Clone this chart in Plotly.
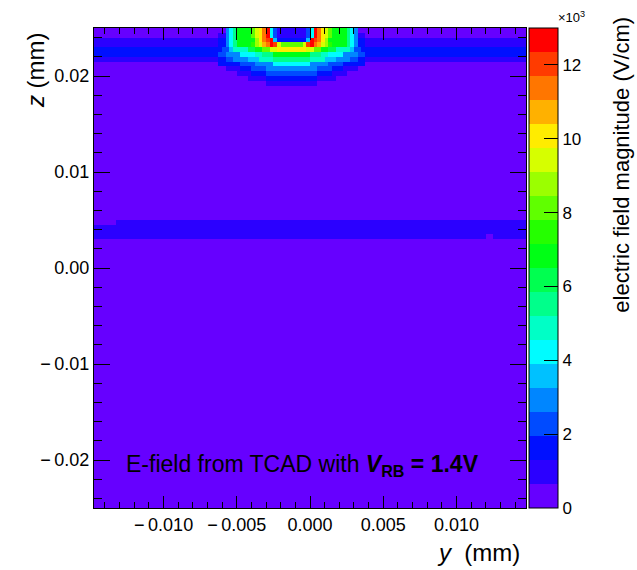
import numpy as np
import plotly.graph_objects as go

# ---- histogram binning (mm) ----
N_Y_BINS = 118
N_Z_BINS = 100
Y_MIN, Y_MAX = -0.01475, 0.01475
Z_MIN, Z_MAX = -0.025, 0.025

# ---- axis tick labels ----
Y_TICKS = [-0.010, -0.005, 0.0, 0.005, 0.010]
Y_TICK_LABELS = ["\u2212\u20090.010", "\u2212\u20090.005", "0.000", "0.005", "0.010"]
Z_TICKS = [-0.02, -0.01, 0.0, 0.01, 0.02]
Z_TICK_LABELS = ["\u2212\u20090.02", "\u2212\u20090.01", "0.00", "0.01", "0.02"]

# ---- field values (V/cm) ----
BULK_FIELD = 300

# depth slabs with a uniform field across the whole width
SLAB_Z_LOW = [0.0230, 0.0220, 0.0215, 0.0030]
SLAB_Z_HIGH = [0.0240, 0.0230, 0.0220, 0.0050]
SLAB_FIELD = [1000, 1600, 1000, 1000]

# single cells that stay at the bulk value inside a slab
SPOT_Y_LOW = [-0.01475, 0.01200]
SPOT_Y_HIGH = [-0.01325, 0.01250]
SPOT_Z_LOW = [0.0045, 0.0030]
SPOT_Z_HIGH = [0.0050, 0.0035]
SPOT_FIELD = [300, 300]

# junction under the implant, centred at y = -1.25 um, rows from the surface down
# (0.5 um each); each row lists outer lateral distance (um) and field (V/cm)
JUNCTION_Y_CENTER = -0.00125
JUNCTION_ROW_DIST = [
    [1.0, 1.25, 1.5, 1.75, 2.0, 2.25, 2.5, 2.75, 3.75, 4.0, 4.25, 4.5],
    [1.0, 1.25, 1.5, 1.75, 2.0, 2.25, 2.5, 2.75, 3.75, 4.0, 4.25, 4.5, 5.0],
    [1.0, 1.25, 1.5, 1.75, 2.0, 2.25, 2.5, 3.75, 4.0, 4.25, 4.5, 5.0],
    [0.75, 1.0, 1.25, 1.5, 1.75, 2.0, 2.25, 2.5, 2.75, 3.75, 4.0, 4.25, 4.5, 5.0],
    [1.0, 1.5, 2.0, 2.5, 3.0, 4.0, 4.25, 4.75],
    [1.25, 2.0, 2.5, 3.5, 4.5, 5.0],
    [1.25, 2.25, 3.0, 4.0, 4.5, 5.0],
    [1.25, 2.5, 3.5, 5.0],
    [1.75, 2.75, 3.5, 4.5],
    [1.75, 2.75, 3.75],
    [1.75, 3.0],
    [1.75],
]
JUNCTION_ROW_FIELD = [
    [1000, 2300, 4200, 12700, 11400, 10100, 9400, 8100, 6800, 5500, 4200, 2900],
    [1000, 2300, 4200, 12700, 11400, 10100, 9400, 8100, 6800, 5500, 4200, 2900, 1000],
    [1600, 3600, 12700, 12000, 11400, 10100, 8800, 6800, 5500, 4200, 2900, 1600],
    [8100, 9400, 12000, 12700, 11400, 10700, 9400, 8800, 7500, 6800, 5500, 4200, 2900, 1600],
    [10100, 9400, 8100, 6800, 6200, 4900, 3600, 2300],
    [6800, 5500, 4900, 4200, 2900, 2300],
    [5500, 4900, 3600, 2900, 2300, 1600],
    [4200, 2900, 2300, 1600],
    [2900, 2300, 1600, 1000],
    [2300, 1600, 1000],
    [1600, 1000],
    [1000],
]

# colour bands of the palette (20 contour levels from 0 to 13000 V/cm)
E_MAX = 13000
BAND_COLORS = [
    "#6600FF", "#2B00FF", "#0010FF", "#004BFF", "#0086FF",
    "#00C1FF", "#00FCFF", "#00FFC6", "#00FF8B", "#00FF50",
    "#00FF15", "#25FF00", "#60FF00", "#9BFF00", "#D6FF00",
    "#FFEC00", "#FFB100", "#FF7600", "#FF3B00", "#FF0000",
]
CBAR_TICKS = [0, 2000, 4000, 6000, 8000, 10000, 12000]
CBAR_LABELS = ["0", "2", "4", "6", "8", "10", "12"]

# ---- build the 2D histogram ----
y_edges = np.linspace(Y_MIN, Y_MAX, N_Y_BINS + 1)
z_edges = np.linspace(Z_MIN, Z_MAX, N_Z_BINS + 1)
y_c = 0.5 * (y_edges[:-1] + y_edges[1:])
z_c = 0.5 * (z_edges[:-1] + z_edges[1:])

field = np.full((N_Z_BINS, N_Y_BINS), float(BULK_FIELD))
for lo, hi, val in zip(SLAB_Z_LOW, SLAB_Z_HIGH, SLAB_FIELD):
    rows = (z_c > lo) & (z_c < hi)
    field[rows, :] = val
for ylo, yhi, zlo, zhi, val in zip(SPOT_Y_LOW, SPOT_Y_HIGH, SPOT_Z_LOW, SPOT_Z_HIGH, SPOT_FIELD):
    rmask = (z_c > zlo) & (z_c < zhi)
    cmask = (y_c > ylo) & (y_c < yhi)
    field[np.ix_(rmask, cmask)] = val

dist_um = np.abs(y_c - JUNCTION_Y_CENTER) * 1000.0
for r, (dists, vals) in enumerate(zip(JUNCTION_ROW_DIST, JUNCTION_ROW_FIELD)):
    j = N_Z_BINS - 1 - r
    for i in range(N_Y_BINS):
        for d_out, v in zip(dists, vals):
            if dist_um[i] < d_out:
                field[j, i] = v
                break

# stepped colour scale
n_bands = len(BAND_COLORS)
colorscale = []
for k, c in enumerate(BAND_COLORS):
    colorscale.append([k / n_bands, c])
    colorscale.append([(k + 1) / n_bands, c])

FONT = "Liberation Sans, Arial, Helvetica, sans-serif"

fig = go.Figure(
    go.Heatmap(
        x=y_edges,
        y=z_edges,
        z=field,
        zmin=0,
        zmax=E_MAX,
        zsmooth=False,
        colorscale=colorscale,
        hoverinfo="skip",
        colorbar=dict(
            x=1.007,
            xanchor="left",
            xpad=0,
            y=0.5,
            yanchor="middle",
            len=1.0,
            lenmode="fraction",
            ypad=0,
            thickness=29,
            outlinewidth=1,
            outlinecolor="black",
            tickvals=CBAR_TICKS,
            ticktext=CBAR_LABELS,
            ticks="inside",
            ticklen=14,
            tickwidth=1,
            tickcolor="black",
            tickfont=dict(family=FONT, size=17, color="black"),
        ),
    )
)

axis_common = dict(
    showline=True,
    linecolor="black",
    linewidth=1,
    mirror="allticks",
    ticks="inside",
    tickcolor="black",
    tickwidth=1,
    showgrid=False,
    zeroline=False,
    tickfont=dict(family=FONT, size=18, color="black"),
)

fig.update_xaxes(
    range=[Y_MIN, Y_MAX],
    tickmode="array",
    tickvals=Y_TICKS,
    ticktext=Y_TICK_LABELS,
    ticklen=12,
    minor=dict(dtick=0.001, tick0=0, ticklen=6, ticks="inside", tickcolor="black"),
    **axis_common,
)
fig.update_yaxes(
    range=[Z_MIN, Z_MAX],
    tickmode="array",
    tickvals=Z_TICKS,
    ticktext=Z_TICK_LABELS,
    ticklen=16,
    minor=dict(dtick=0.002, tick0=0, ticklen=8, ticks="inside", tickcolor="black"),
    **axis_common,
)

annotations = [
    dict(
        text="<i>z</i> (mm)",
        xref="paper", yref="paper",
        x=-0.137, y=0.912,
        xanchor="center", yanchor="middle",
        textangle=-90, showarrow=False,
        font=dict(family=FONT, size=24, color="black"),
    ),
    dict(
        text="<i>y</i>  (mm)",
        xref="paper", yref="paper",
        x=0.991, y=-0.092,
        xanchor="right", yanchor="middle",
        showarrow=False,
        font=dict(family=FONT, size=24, color="black"),
    ),
    dict(
        text="electric field magnitude (V/cm)",
        xref="paper", yref="paper",
        x=1.222, y=0.715,
        xanchor="center", yanchor="middle",
        textangle=-90, showarrow=False,
        font=dict(family=FONT, size=22, color="black"),
    ),
    dict(
        text="×10<sup>3</sup>",
        xref="paper", yref="paper",
        x=1.070, y=1.022,
        xanchor="left", yanchor="middle",
        showarrow=False,
        font=dict(family=FONT, size=13, color="black"),
    ),
    dict(
        text="E-field from TCAD with <b><i>V</i><sub>RB</sub> = 1.4V</b>",
        xref="paper", yref="paper",
        x=0.070, y=0.088,
        xanchor="left", yanchor="middle",
        showarrow=False,
        font=dict(family=FONT, size=23, color="black"),
    ),
]

fig.update_layout(
    width=637,
    height=570,
    margin=dict(l=94, r=111, t=28, b=62),
    paper_bgcolor="white",
    plot_bgcolor="white",
    font=dict(family=FONT, color="black"),
    annotations=annotations,
    showlegend=False,
)

fig.write_html("out.html")
